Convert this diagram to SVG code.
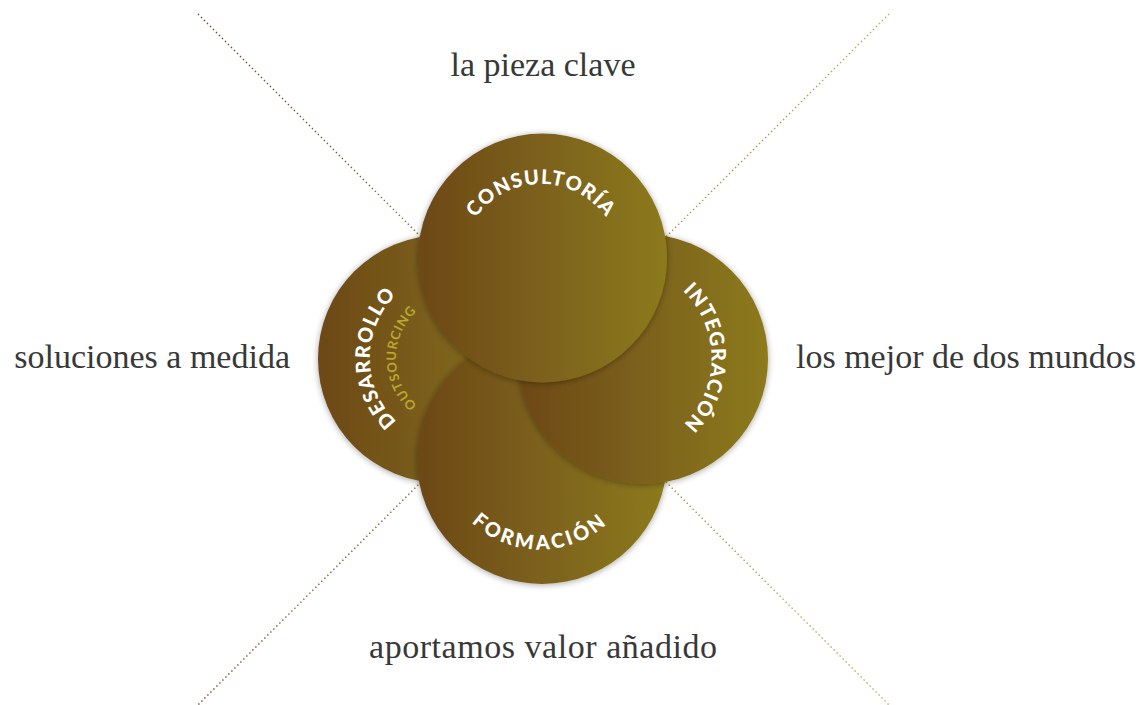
<svg xmlns="http://www.w3.org/2000/svg" width="1139" height="705" viewBox="0 0 1139 705">
<style>
.lbl{font-family:"Liberation Serif",serif;font-size:34px;fill:#383838}
.ct{font-family:Lato,"Open Sans",sans-serif;font-weight:900;font-size:20px;fill:#ffffff}
.sub{font-family:Lato,"Open Sans",sans-serif;font-weight:700;font-size:13px;fill:#bba82c}
.circ{fill:url(#cg);filter:url(#sh)}
.dots{fill:none;stroke:url(#lg);stroke-width:1.4;stroke-dasharray:1.4 2.84}
</style>
<defs>
<linearGradient id="cg" x1="0" y1="0" x2="1" y2="0">
<stop offset="0" stop-color="#6c4818"/>
<stop offset="1" stop-color="#8c7a1d"/>
</linearGradient>
<linearGradient id="lg" gradientUnits="userSpaceOnUse" x1="198" y1="0" x2="889" y2="0">
<stop offset="0" stop-color="#6b4a2e"/>
<stop offset="1" stop-color="#c2aa48"/>
</linearGradient>
<filter id="sh" x="-20%" y="-20%" width="140%" height="140%">
<feDropShadow dx="0" dy="1" stdDeviation="3" flood-color="#000" flood-opacity="0.35"/>
</filter>
<path id="pTop" d="M465.82,236.64 A80,80 0 0 1 616.18,236.64"/>
<path id="pLeft" d="M428.39,441.63 A89,89 0 0 1 428.39,274.37"/>
<path id="pOut" d="M437.45,417.20 A63,63 0 0 1 437.45,298.80"/>
<path id="pRight" d="M650.64,271.08 A92.5,92.5 0 0 1 650.64,444.92"/>
<path id="pBot" d="M445.56,483.37 A100.5,100.5 0 0 0 634.44,483.37"/>
</defs>
<rect width="1139" height="705" fill="#ffffff"/>
<g id="connectors">
<path class="dots" d="M198,14 L889,705"/>
<path class="dots" d="M889,14 L198,705"/>
</g>
<g id="label-top"><text class="lbl" x="543" y="76" text-anchor="middle">la pieza clave</text></g>
<g id="label-left"><text class="lbl" x="290" y="368" text-anchor="end">soluciones a medida</text></g>
<g id="label-right"><text class="lbl" x="796" y="368">los mejor de dos mundos</text></g>
<g id="label-bottom"><text class="lbl" x="543" y="658" text-anchor="middle" textLength="348" lengthAdjust="spacing">aportamos valor añadido</text></g>
<g id="node-desarrollo">
<circle class="circ" cx="442" cy="359" r="124"/>
<text class="ct" letter-spacing="1.2"><textPath href="#pLeft" startOffset="50%" text-anchor="middle">DESARROLLO</textPath></text>
<text class="sub" letter-spacing="1"><textPath href="#pOut" startOffset="50%" text-anchor="middle">OUTSOURCING</textPath></text>
</g>
<g id="node-formacion">
<circle class="circ" cx="542" cy="459" r="125"/>
<text class="ct" letter-spacing="3"><textPath href="#pBot" startOffset="50%" text-anchor="middle">FORMACIÓN</textPath></text>
</g>
<g id="node-integracion">
<circle class="circ" cx="643" cy="359" r="125"/>
<text class="ct" letter-spacing="1.2"><textPath href="#pRight" startOffset="50%" text-anchor="middle">INTEGRACIÓN</textPath></text>
</g>
<g id="node-consultoria">
<circle class="circ" cx="542.5" cy="258" r="124.5"/>
<text class="ct" letter-spacing="1.2"><textPath href="#pTop" startOffset="50%" text-anchor="middle">CONSULTORÍA</textPath></text>
</g>
</svg>
